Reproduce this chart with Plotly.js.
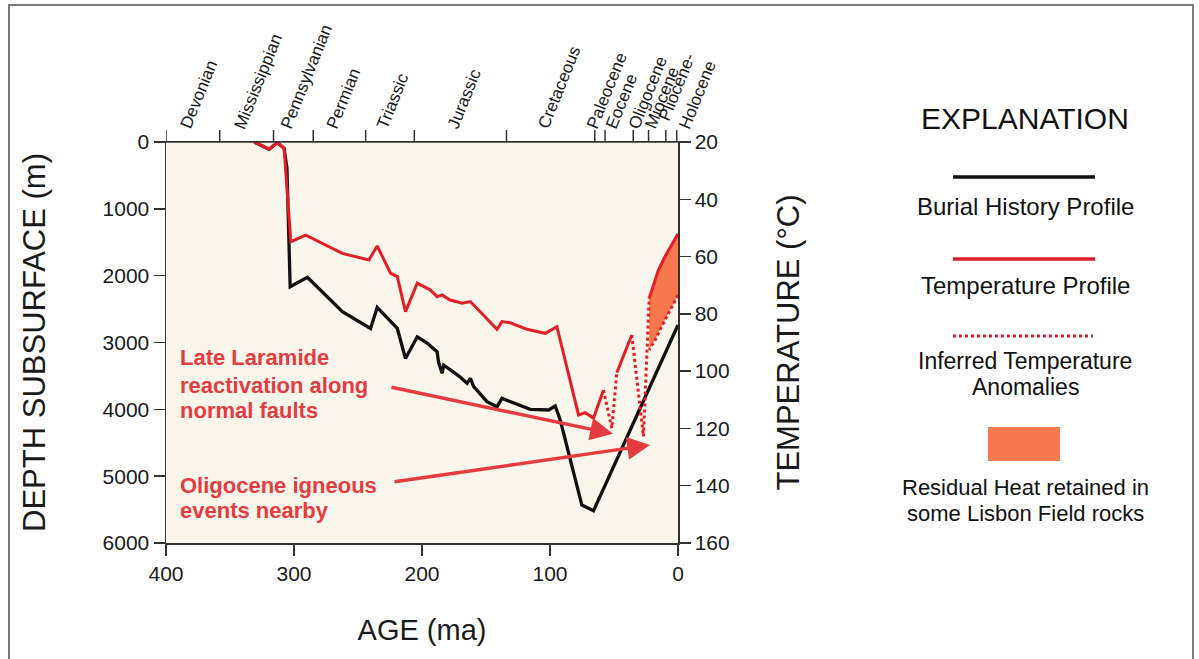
<!DOCTYPE html>
<html>
<head>
<meta charset="utf-8">
<script src="https://cdn.plot.ly/plotly-3.0.1.min.js"></script>
<style>html,body{margin:0;padding:0;background:#fff;}#chart{width:1199px;height:659px;}</style>
</head>
<body>
<div id="chart"></div>
<script>
// ---- Burial history (age in Ma, depth in m) ----
const ageBurial   = [331, 319.5, 313, 307.7, 305.5, 303, 289.5, 262.2, 240.2, 235, 219.3, 212.9, 203.7, 196, 188.2, 187, 184.3, 183, 177.8, 170, 164.8, 162.2, 159.6, 149.2, 141.4, 137.5, 115.4, 101.1, 95.9, 92, 75.1, 66, 0];
const depthBurial = [0, 110, 10, 95, 400, 2165, 2025, 2540, 2790, 2475, 2790, 3240, 2915, 3010, 3140, 3300, 3460, 3340, 3410, 3520, 3611, 3537, 3661, 3886, 3961, 3836, 4000, 4010, 3950, 4160, 5432, 5517, 2738];

// ---- Temperature profile (age in Ma, temperature in °C) ----
const ageTemp  = [331, 319.5, 313, 307.7, 302.5, 290.8, 262.2, 241.5, 235, 224.6, 219.3, 212.9, 203.7, 193.4, 188.2, 184.3, 178.5, 168.7, 162.2, 141.4, 137.5, 131, 118, 103.7, 94.6, 77.7, 72.5, 66, 58.2];
const tempProf = [20, 22.5, 20.2, 22.2, 54.8, 52.5, 58.9, 61.2, 56.3, 65.8, 67, 79.2, 69.3, 71.7, 74, 73.4, 75.1, 76.3, 75.7, 85.4, 82.7, 83.1, 85.4, 86.8, 84.5, 115.3, 114.5, 116.4, 106.6];
const ageTemp2  = [47.8, 36.1];
const tempProf2 = [100.5, 87.4];

// ---- Inferred temperature anomalies (dotted) ----
const ageAnom1  = [58.2, 51.7, 47.8];
const tempAnom1 = [106.6, 119.9, 100.5];
const ageAnom2  = [36.1, 27, 22.5];
const tempAnom2 = [87.4, 122.8, 74.5];

// ---- Residual heat envelope ----
const ageResidTop     = [22.5, 19.2, 15.3, 10.1, 4.9, 0];
const tempResidTop    = [74.5, 69.9, 64.7, 60, 56, 52];
const ageResidBottom  = [0, 4.9, 11.5, 17.9, 22.5];
const tempResidBottom = [73.5, 77.5, 83.3, 89.1, 92.6];

// ---- Geologic time scale (top axis) ----
const periodNames = ['Devonian', 'Mississippian', 'Pennsylvanian', 'Permian', 'Triassic', 'Jurassic', 'Cretaceous', 'Paleocene', 'Eocene', 'Oligocene', 'Miocene', 'Pliocene-<br>Holocene'];
const periodBounds = [400, 358, 316, 285, 244, 206, 134, 65, 57, 35, 23, 9.5, 1];

// ---- Axis ticks ----
const ageTicks = [400, 300, 200, 100, 0];
const depthTicks = [0, 1000, 2000, 3000, 4000, 5000, 6000];
const tempTicks = [20, 40, 60, 80, 100, 120, 140, 160];

// ---- Annotations ----
const noteLaramide = ['Late Laramide', 'reactivation along', 'normal faults'];
const noteOligocene = ['Oligocene igneous', 'events nearby'];
const arrowLaramide = {tipAge: 50.8, tipTemp: 121.9, tailAge: 225, tailTemp: 105.5};
const arrowOligocene = {tipAge: 21.9, tipTemp: 125.8, tailAge: 222.6, tailTemp: 138.7};

const legendLabels = ['Burial History Profile', 'Temperature Profile', 'Inferred Temperature', 'Anomalies', 'Residual Heat retained in', 'some Lisbon Field rocks'];

// ---------------- layout helpers ----------------
const W = 1199, H = 659;
const L = 166, R = 678, T = 142, B = 543;
const px = x => (x - L) / (R - L);
const py = y => (B - y) / (B - T);
const FONT = 'Liberation Sans, Arial, Helvetica, sans-serif';
const RED = '#E21F26';
const TXTRED = '#E63B3F';
const ORANGE = '#F7784F';

const traces = [
  {x: ageResidTop.concat(ageResidBottom), y: tempResidTop.concat(tempResidBottom), yaxis: 'y2',
   mode: 'lines', fill: 'toself', fillcolor: ORANGE, line: {width: 0, color: ORANGE}, hoverinfo: 'skip'},
  {x: ageBurial, y: depthBurial, mode: 'lines', line: {color: '#111', width: 3.3}},
  {x: ageTemp, y: tempProf, yaxis: 'y2', mode: 'lines', line: {color: RED, width: 3}},
  {x: ageTemp2, y: tempProf2, yaxis: 'y2', mode: 'lines', line: {color: RED, width: 3}},
  {x: ageResidTop, y: tempResidTop, yaxis: 'y2', mode: 'lines', line: {color: RED, width: 3}},
  {x: ageAnom1, y: tempAnom1, yaxis: 'y2', mode: 'lines', line: {color: RED, width: 3, dash: 'dot'}},
  {x: ageAnom2, y: tempAnom2, yaxis: 'y2', mode: 'lines', line: {color: RED, width: 3, dash: 'dot'}},
  {x: ageResidBottom, y: tempResidBottom, yaxis: 'y2', mode: 'lines', line: {color: RED, width: 3, dash: 'dot'}}
];

const shapes = [];
const annotations = [];

// outer frame
shapes.push({type: 'rect', xref: 'paper', yref: 'paper', x0: px(9), x1: px(1193), y0: py(5), y1: py(668),
  line: {color: '#7a7a7a', width: 2}, fillcolor: 'rgba(0,0,0,0)', layer: 'below'});

// top time-scale ticks
periodBounds.forEach(a => {
  shapes.push({type: 'line', xref: 'x', yref: 'paper', x0: a, x1: a, y0: 1, y1: py(130), line: {color: '#333', width: 1.5}});
});
shapes.push({type: 'line', xref: 'paper', yref: 'paper', x0: px(154), x1: 1, y0: 1, y1: 1, line: {color: '#333', width: 1.5}});

// period labels
periodNames.forEach((n, i) => {
  const mid = (periodBounds[i] + periodBounds[i + 1]) / 2;
  annotations.push({x: mid, xref: 'x', y: 1, yref: 'paper', text: n, showarrow: false,
    textangle: -68, xanchor: 'left', yanchor: 'bottom', xshift: -19, yshift: 8,
    font: {family: FONT, size: 17, color: '#1a1a1a'}, align: 'left'});
});

// red notes
const laramideY = [357.5, 385.5, 410.5];
noteLaramide.forEach((t, i) => annotations.push({x: px(178), xref: 'paper', y: py(laramideY[i]), yref: 'paper',
  text: '<b>' + t + '</b>', showarrow: false, xanchor: 'left', yanchor: 'middle', font: {family: FONT, size: 22, color: TXTRED}}));
const oligoY = [485, 510];
noteOligocene.forEach((t, i) => annotations.push({x: px(178), xref: 'paper', y: py(oligoY[i]), yref: 'paper',
  text: '<b>' + t + '</b>', showarrow: false, xanchor: 'left', yanchor: 'middle', font: {family: FONT, size: 22, color: TXTRED}}));

[arrowLaramide, arrowOligocene].forEach(a => annotations.push({
  x: a.tipAge, y: a.tipTemp, xref: 'x', yref: 'y2', ax: a.tailAge, ay: a.tailTemp, axref: 'x', ayref: 'y2',
  text: '', showarrow: true, arrowhead: 2, arrowsize: 1.3, arrowwidth: 3.5, arrowcolor: TXTRED, standoff: 0}));

// legend ("EXPLANATION")
const lx = px(1025);
annotations.push({x: lx, xref: 'paper', y: py(119), yref: 'paper', text: 'EXPLANATION', showarrow: false,
  xanchor: 'center', yanchor: 'middle', font: {family: FONT, size: 30, color: '#111'}});
shapes.push({type: 'line', xref: 'paper', yref: 'paper', x0: px(953), x1: px(1095), y0: py(177), y1: py(177), line: {color: '#111', width: 3.5}});
shapes.push({type: 'line', xref: 'paper', yref: 'paper', x0: px(953), x1: px(1095), y0: py(259), y1: py(259), line: {color: RED, width: 3.5}});
shapes.push({type: 'line', xref: 'paper', yref: 'paper', x0: px(953), x1: px(1093), y0: py(336), y1: py(336), line: {color: RED, width: 3, dash: 'dot'}});
shapes.push({type: 'rect', xref: 'paper', yref: 'paper', x0: px(988), x1: px(1060), y0: py(461), y1: py(427), line: {width: 0}, fillcolor: ORANGE});
const legY = [206, 285.5, 360.5, 386.5, 487, 513];
const legSize = [24, 24, 23, 23, 22, 22];
legendLabels.forEach((t, i) => annotations.push({x: lx, xref: 'paper', y: py(legY[i]), yref: 'paper', text: t, showarrow: false,
  xanchor: 'center', yanchor: 'middle', font: {family: FONT, size: legSize[i], color: '#111'}}));

const axisCommon = {showgrid: false, zeroline: false, showline: true, linecolor: '#333', linewidth: 1.5,
  ticks: 'outside', tickcolor: '#333', tickwidth: 1.5, ticklen: 11,
  tickfont: {family: FONT, size: 21, color: '#1a1a1a'}, automargin: false};

const layout = {
  width: W, height: H,
  margin: {l: L, r: W - R, t: T, b: H - B, pad: 0},
  paper_bgcolor: '#ffffff', plot_bgcolor: '#FBF6EC',
  showlegend: false,
  font: {family: FONT, color: '#1a1a1a'},
  xaxis: Object.assign({}, axisCommon, {range: [400, 0], tickvals: ageTicks, ticktext: ageTicks.map(String), mirror: true,
    title: {text: 'AGE (ma)', font: {family: FONT, size: 29, color: '#1a1a1a'}, standoff: 36}}),
  yaxis: Object.assign({}, axisCommon, {range: [6000, 0], tickvals: depthTicks, ticktext: depthTicks.map(String),
    title: {text: 'DEPTH SUBSURFACE (m)', font: {family: FONT, size: 31, color: '#1a1a1a'}, standoff: 47}}),
  yaxis2: Object.assign({}, axisCommon, {range: [160, 20], tickvals: tempTicks, ticktext: tempTicks.map(String),
    overlaying: 'y', side: 'right',
    title: {text: 'TEMPERATURE (°C)', font: {family: FONT, size: 31, color: '#1a1a1a'}, standoff: 48}}),
  shapes: shapes,
  annotations: annotations
};

Plotly.newPlot('chart', traces, layout, {displayModeBar: false, staticPlot: true});
</script>
</body>
</html>
